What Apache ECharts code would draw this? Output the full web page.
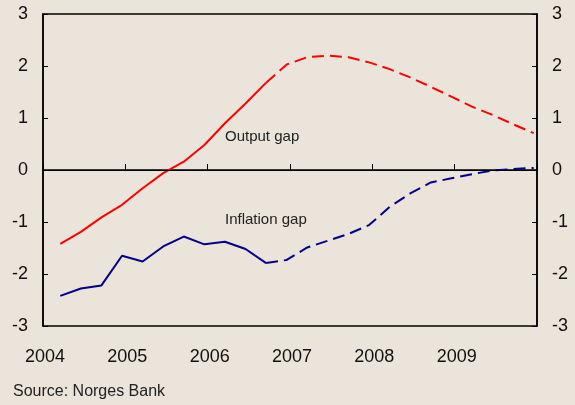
<!DOCTYPE html>
<html>
<head>
<meta charset="utf-8">
<script src="https://cdn.jsdelivr.net/npm/echarts@6/dist/echarts.min.js"></script>
<style>
  html, body { margin: 0; padding: 0; background: #eae4da; }
  #chart { width: 575px; height: 405px; }
</style>
</head>
<body>
<div id="chart"></div>
<script>
// quarterly observations, 2004 Q1 - 2009 Q4
var firstYear = 2004;
var yearTicks = [2004, 2005, 2006, 2007, 2008, 2009];
var outputGap = [-1.42, -1.19, -0.91, -0.67, -0.35, -0.06, 0.16, 0.48, 0.90, 1.28, 1.68, 2.03,
                 2.17, 2.20, 2.17, 2.07, 1.94, 1.78, 1.60, 1.41, 1.22, 1.06, 0.88, 0.71];
var inflationGap = [-2.42, -2.28, -2.22, -1.65, -1.76, -1.47, -1.28, -1.43, -1.38, -1.52, -1.79, -1.73,
                    -1.49, -1.36, -1.23, -1.06, -0.71, -0.45, -0.24, -0.16, -0.08, -0.01, 0.02, 0.04];
var lastHistory = 10; // solid up to this quarter, projection (dashed) after

var font = "'Liberation Sans Narrow', 'Arial Narrow', 'Liberation Sans', sans-serif";

function pairs(arr, from, to) {
    var out = [];
    for (var i = from; i <= to; i++) {
        out.push([firstYear + 0.21 + i * 0.25, arr[i]]);
    }
    return out;
}

function chart() {
    var myChart = echarts.init(document.getElementById('chart'));
    var n = outputGap.length - 1;
    var yAxisCommon = {
        type: 'value', min: -3, max: 3, interval: 1,
        axisLine: { show: true, lineStyle: { color: '#000', width: 1.5 } },
        axisTick: { show: true, inside: true, length: 5, lineStyle: { color: '#000' } },
        splitLine: { show: false },
        axisLabel: { color: '#111', fontSize: 18, fontFamily: font, margin: 15 }
    };
    var option = {
        backgroundColor: '#eae4da',
        animation: false,
        grid: {
            left: 43, right: 38, top: 14, bottom: 79,
            show: true, borderColor: '#000', borderWidth: 1.5, backgroundColor: 'transparent'
        },
        xAxis: {
            type: 'value', min: 2004, max: 2010, interval: 1,
            axisLine: { lineStyle: { color: '#000', width: 1.5 } },
            axisTick: { inside: true, length: 6, lineStyle: { color: '#000' } },
            splitLine: { show: false },
            axisLabel: {
                color: '#111', fontSize: 18, fontFamily: font, margin: 22, padding: [0, 0, 0, 4],
                formatter: function (v) { return yearTicks.indexOf(v) >= 0 ? String(v) : ''; }
            }
        },
        yAxis: [
            Object.assign({ position: 'left' }, yAxisCommon),
            Object.assign({ position: 'right' }, yAxisCommon)
        ],
        series: [
            {
                type: 'line', data: pairs(outputGap, 0, lastHistory), showSymbol: false,
                lineStyle: { color: '#ff0000', width: 2 },
                markLine: {
                    silent: true, symbol: 'none', label: { show: false },
                    lineStyle: { color: '#000', width: 1, type: 'solid' },
                    data: [{ yAxis: 0 }]
                }
            },
            {
                type: 'line', data: pairs(outputGap, lastHistory, n), showSymbol: false,
                lineStyle: { color: '#ff0000', width: 2, type: [12, 6] }
            },
            {
                type: 'line', data: pairs(inflationGap, 0, lastHistory), showSymbol: false,
                lineStyle: { color: '#00008b', width: 2 }
            },
            {
                type: 'line', data: pairs(inflationGap, lastHistory, n), showSymbol: false,
                lineStyle: { color: '#00008b', width: 2, type: [12, 6] }
            }
        ],
        graphic: [
            { type: 'text', left: 225, top: 129, style: { text: 'Output gap', fill: '#222', font: '15px ' + font } },
            { type: 'text', left: 225, top: 212, style: { text: 'Inflation gap', fill: '#222', font: '15px ' + font } },
            { type: 'text', left: 13, top: 384, style: { text: 'Source: Norges Bank', fill: '#222', font: '16px ' + font } }
        ]
    };
    myChart.setOption(option);
}

chart();
</script>
</body>
</html>
